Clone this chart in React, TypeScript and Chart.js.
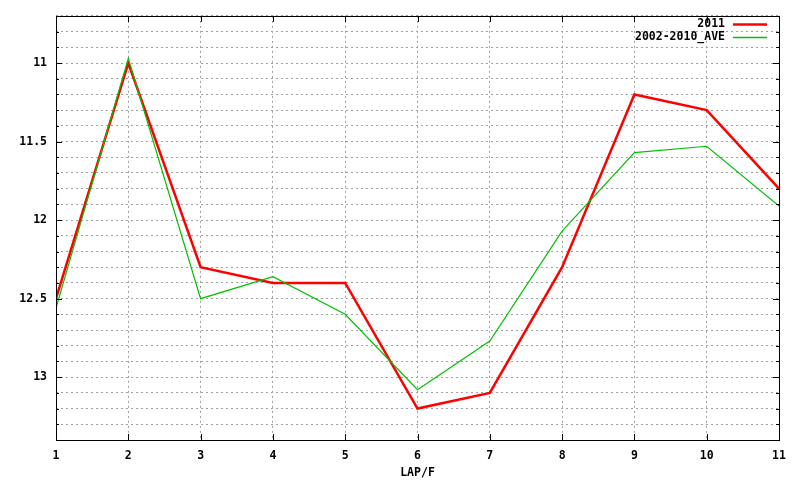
import React, { useEffect, useRef } from "react";
import { Chart, registerables } from "chart.js";

Chart.register(...registerables);

const laps = [1, 2, 3, 4, 5, 6, 7, 8, 9, 10, 11];
const series2011 = [12.5, 11.0, 12.3, 12.4, 12.4, 13.2, 13.1, 12.3, 11.2, 11.3, 11.8];
const seriesAve = [12.56, 10.97, 12.5, 12.36, 12.6, 13.08, 12.77, 12.07, 11.57, 11.53, 11.91];
const label2011 = "2011";
const labelAve = "2002-2010_AVE";
const xTitle = "LAP/F";
const yMin = 10.7;
const yMax = 13.4;
const yStep = 0.1;
const xMin = 1;
const xMax = 11;

const FONT_FAMILY = '"DejaVu Sans Mono", "Liberation Mono", monospace';

const isMajorY = (v: number) => Math.abs(v * 2 - Math.round(v * 2)) < 1e-6;

const framePlugin = {
  id: "gnuFrame",
  afterDraw(chart: any) {
    const ctx = chart.ctx as CanvasRenderingContext2D;
    const { left, right, top, bottom } = chart.chartArea;
    const xs = chart.scales.x;
    const ys = chart.scales.y;
    ctx.save();
    ctx.strokeStyle = "#000";
    ctx.lineWidth = 1;
    // border
    ctx.strokeRect(Math.round(left) + 0.5, Math.round(top) + 0.5, Math.round(right - left), Math.round(bottom - top));
    // y ticks inward on both sides
    ctx.beginPath();
    ys.ticks.forEach((t: any) => {
      const py = Math.round(ys.getPixelForValue(t.value)) + 0.5;
      const len = isMajorY(t.value) ? 6 : 3;
      ctx.moveTo(left, py);
      ctx.lineTo(left + len, py);
      ctx.moveTo(right, py);
      ctx.lineTo(right - len, py);
    });
    xs.ticks.forEach((t: any) => {
      const px = Math.round(xs.getPixelForValue(t.value)) + 0.5;
      ctx.moveTo(px, bottom);
      ctx.lineTo(px, bottom - 6);
      ctx.moveTo(px, top);
      ctx.lineTo(px, top + 6);
    });
    ctx.stroke();
    // legend
    ctx.font = "bold 11.5px " + FONT_FAMILY;
    ctx.textAlign = "right";
    ctx.textBaseline = "middle";
    const rows = chart.data.datasets.map((d: any) => d).sort((a: any, b: any) => a.legendIndex - b.legendIndex);
    rows.forEach((d: any, i: number) => {
      const y = 24 + i * 13;
      ctx.fillStyle = "#000";
      ctx.fillText(d.label, 725, y);
      ctx.strokeStyle = d.borderColor;
      ctx.lineWidth = d.borderWidth > 1.5 ? d.borderWidth : 1.5;
      ctx.beginPath();
      ctx.moveTo(733, y + 0.5);
      ctx.lineTo(767, y + 0.5);
      ctx.stroke();
    });
    ctx.restore();
  },
};

export default function App() {
  const ref = useRef<HTMLCanvasElement | null>(null);

  useEffect(() => {
    document.body.style.margin = "0";
    const canvas = ref.current;
    if (!canvas) return;
    const chart = new Chart(canvas, {
      type: "line",
      data: {
        datasets: [
          {
            label: label2011,
            legendIndex: 0,
            data: laps.map((x, i) => ({ x, y: series2011[i] })),
            borderColor: "#ff0000",
            backgroundColor: "#ff0000",
            borderWidth: 2.5,
            pointRadius: 0,
            tension: 0,
            order: 2,
          } as any,
          {
            label: labelAve,
            legendIndex: 1,
            data: laps.map((x, i) => ({ x, y: seriesAve[i] })),
            borderColor: "#00c000",
            backgroundColor: "#00c000",
            borderWidth: 1.2,
            pointRadius: 0,
            tension: 0,
            order: 1,
          } as any,
        ],
      },
      options: {
        animation: false,
        responsive: false,
        maintainAspectRatio: false,
        events: [],
        layout: { padding: { left: 0, right: 21, top: 13, bottom: 0 } },
        plugins: {
          legend: { display: false },
          tooltip: { enabled: false },
        },
        scales: {
          x: {
            type: "linear",
            min: xMin,
            max: xMax,
            ticks: {
              stepSize: 1,
              color: "#000",
              padding: 9,
              font: { family: FONT_FAMILY, size: 11.5, weight: "bold" },
              maxRotation: 0,
              autoSkip: false,
            },
            grid: {
              color: "#a0a0a0",
              lineWidth: 1,
              drawTicks: false,
            },
            border: { display: false, dash: [2, 3] },
            title: {
              display: true,
              text: xTitle,
              color: "#000",
              font: { family: FONT_FAMILY, size: 11.5, weight: "bold" },
              padding: { top: 4, bottom: 0 },
            },
            afterFit: (s: any) => {
              s.height = 40;
            },
          },
          y: {
            type: "linear",
            reverse: true,
            min: yMin,
            max: yMax,
            ticks: {
              stepSize: yStep,
              color: "#000",
              padding: 9,
              font: { family: FONT_FAMILY, size: 11.5, weight: "bold" },
              autoSkip: false,
              callback: (v: any) => {
                const n = Number(v);
                if (!isMajorY(n)) return "";
                return String(Math.round(n * 2) / 2);
              },
            },
            grid: {
              color: "#a0a0a0",
              lineWidth: 1,
              drawTicks: false,
            },
            border: { display: false, dash: [2, 3] },
            afterFit: (s: any) => {
              s.width = 56;
            },
          },
        },
      } as any,
      plugins: [framePlugin],
    });
    return () => chart.destroy();
  }, []);

  return (
    <div style={{ position: "absolute", left: 0, top: 0, width: 800, height: 480, background: "#fff" }}>
      <canvas ref={ref} width={800} height={480} style={{ width: 800, height: 480 }} />
    </div>
  );
}
